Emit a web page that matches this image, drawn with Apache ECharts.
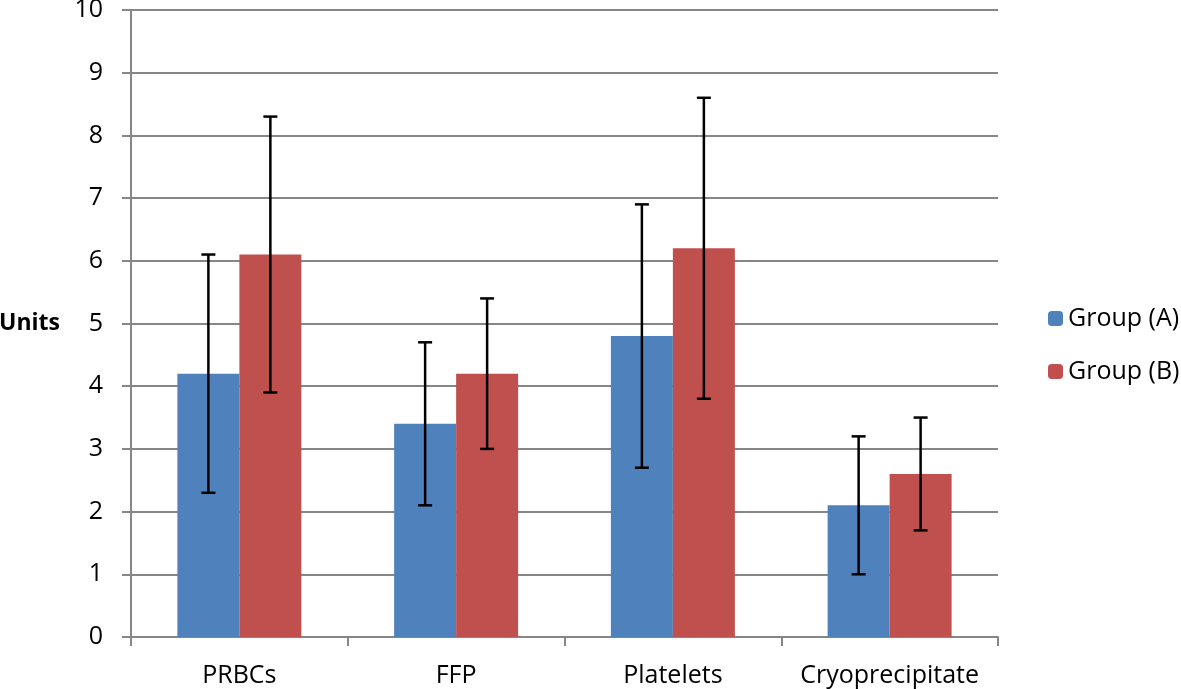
<!DOCTYPE html>
<html><head><meta charset="utf-8">
<script src="https://cdn.jsdelivr.net/npm/echarts@6/dist/echarts.min.js"></script>
<style>html,body{margin:0;padding:0;background:#fff}#c{width:1181px;height:689px}</style>
</head><body><div id="c"></div>
<script>
const categories = ['PRBCs', 'FFP', 'Platelets', 'Cryoprecipitate'];
const groupA = [4.2, 3.4, 4.8, 2.1];
const groupALow = [2.3, 2.1, 2.7, 1.0];
const groupAHigh = [6.1, 4.7, 6.9, 3.2];
const groupB = [6.1, 4.2, 6.2, 2.6];
const groupBLow = [3.9, 3.0, 3.8, 1.7];
const groupBHigh = [8.3, 5.4, 8.6, 3.5];
const yTicks = [0,1,2,3,4,5,6,7,8,9,10];

const BW = 0.286;
function errSeries(low, high, sign) {
  return {
    type: 'custom', silent: true, z: 10,
    data: categories.map((c, i) => [i, low[i], high[i]]),
    renderItem: function (params, api) {
      const band = api.size([1, 0])[0];
      const off = sign * band * BW / 2;
      const lo = api.coord([api.value(0), api.value(1)]);
      const hi = api.coord([api.value(0), api.value(2)]);
      const x = lo[0] + off;
      const cap = 7;
      const st = { stroke: '#000', lineWidth: 2.5 };
      return { type: 'group', children: [
        { type: 'line', shape: { x1: x, y1: lo[1], x2: x, y2: hi[1] }, style: st },
        { type: 'line', shape: { x1: x - cap, y1: lo[1], x2: x + cap, y2: lo[1] }, style: st },
        { type: 'line', shape: { x1: x - cap, y1: hi[1], x2: x + cap, y2: hi[1] }, style: st }
      ]};
    }
  };
}

const chart = echarts.init(document.getElementById('c'));
const font = '"Open Sans", "Liberation Sans", sans-serif';
chart.setOption({
  animation: false,
  textStyle: { fontFamily: font },
  grid: { left: 131, right: 183, top: 10, bottom: 52, containLabel: false, outerBoundsMode: 'none' },
  legend: {
    orient: 'vertical', left: 1043, top: 301,
    itemWidth: 15, itemHeight: 15, itemGap: 28,
    textStyle: { fontSize: 25, color: '#000', fontFamily: font },
    data: ['Group (A)', 'Group (B)']
  },
  xAxis: {
    type: 'category', data: categories,
    axisLine: { lineStyle: { color: '#868686', width: 2 } },
    axisTick: { show: true, interval: 0, length: 9, inside: false, lineStyle: { color: '#868686', width: 2 } },
    axisLabel: { interval: 0, hideOverlap: false, fontSize: 25, color: '#000', margin: 26, fontFamily: font }
  },
  yAxis: {
    type: 'value', min: 0, max: 10, interval: 1,
    name: 'Units', nameLocation: 'middle', nameRotate: 0, nameGap: 71,
    nameTextStyle: { fontSize: 23, fontWeight: 'bold', color: '#000', fontFamily: font, padding: [8, 0, 0, 0] },
    axisLine: { show: true, lineStyle: { color: '#868686', width: 2 } },
    axisTick: { show: true, length: 9, lineStyle: { color: '#868686', width: 2 } },
    splitLine: { lineStyle: { color: '#868686', width: 2 } },
    axisLabel: { fontSize: 25, color: '#000', margin: 28, fontFamily: font,
      formatter: v => yTicks.includes(v) ? String(v) : '' }
  },
  series: [
    { name: 'Group (A)', type: 'bar', data: groupA, barWidth: (BW*100)+'%', barGap: '0%',
      itemStyle: { color: '#4F81BD' } },
    { name: 'Group (B)', type: 'bar', data: groupB, barWidth: (BW*100)+'%', barGap: '0%',
      itemStyle: { color: '#C0504D' } },
    errSeries(groupALow, groupAHigh, -1),
    errSeries(groupBLow, groupBHigh, 1)
  ]
});
</script></body></html>
